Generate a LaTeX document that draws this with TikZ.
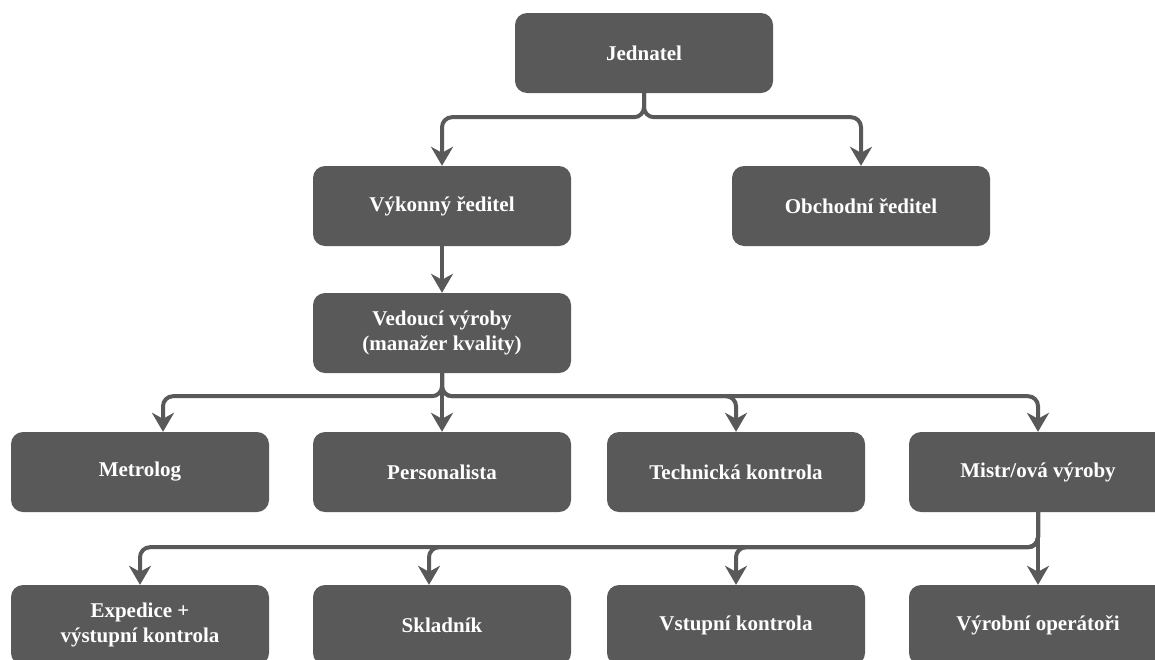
\documentclass[tikz,border=0pt]{standalone}
\usepackage{fontspec}
\setmainfont{Liberation Serif}
\usepackage{xcolor}
\usepackage{tikz}
\usetikzlibrary{arrows.meta, positioning}
\definecolor{BoxGray}{RGB}{89,89,89}

\begin{document}
\begin{tikzpicture}[
  x=1pt, y=-1pt,
  box/.style={rectangle, rounded corners=12pt, fill=BoxGray, text=white,
              minimum width=258pt, minimum height=80pt, inner sep=0pt,
              align=center, font=\bfseries\fontsize{21}{25}\selectfont},
  arr/.style={-{Stealth[length=19pt, width=22pt, inset=6pt]}, line width=4pt,
              draw=BoxGray, rounded corners=10pt},
]
\useasboundingbox (0,0) rectangle (1155,659);
% vedeni
\node[box] (jed) at (644,53) {Jednatel};
\node[box] (vyk) at (442,206) {Výkonný ředitel};
\node[box] (obch) at (861,206) {Obchodní ředitel};
\node[box] (ved) at (442,333) {Vedoucí výroby\\(manažer kvality)};
% treti rada
\node[box] (metro) at (140,472) {Metrolog};
\node[box] (pers) at (442,472) {Personalista};
\node[box] (tech) at (736,472) {Technická kontrola};
\node[box] (mistr) at (1038,472) {Mistr/ová výroby};
% ctvrta rada
\node[box] (exped) at (140,625) {Expedice +\\výstupní kontrola};
\node[box] (sklad) at (442,625) {Skladník};
\node[box] (vstup) at (736,625) {Vstupní kontrola};
\node[box] (oper) at (1038,625) {Výrobní operátoři};
% spojnice
\draw[arr] (jed.south) -- ++(0,24) -| (vyk.north);
\draw[arr] (jed.south) -- ++(0,24) -| (obch.north);
\draw[arr] (vyk) -- (ved);
\draw[arr] (ved.south) -- ++(0,23) -| ([xshift=23pt]metro.north);
\draw[arr] (ved) -- (pers);
\draw[arr] (ved.south) -- ++(0,23) -| (tech.north);
\draw[arr] (ved.south) -- ++(0,23) -| (mistr.north);
\draw[arr] (mistr.south) -- ++(0,35) -| (exped.north);
\draw[arr] (mistr.south) -- ++(0,35) -| ([xshift=-13pt]sklad.north);
\draw[arr] (mistr.south) -- ++(0,35) -| (vstup.north);
\draw[arr] (mistr) -- (oper);
\end{tikzpicture}
\end{document}
